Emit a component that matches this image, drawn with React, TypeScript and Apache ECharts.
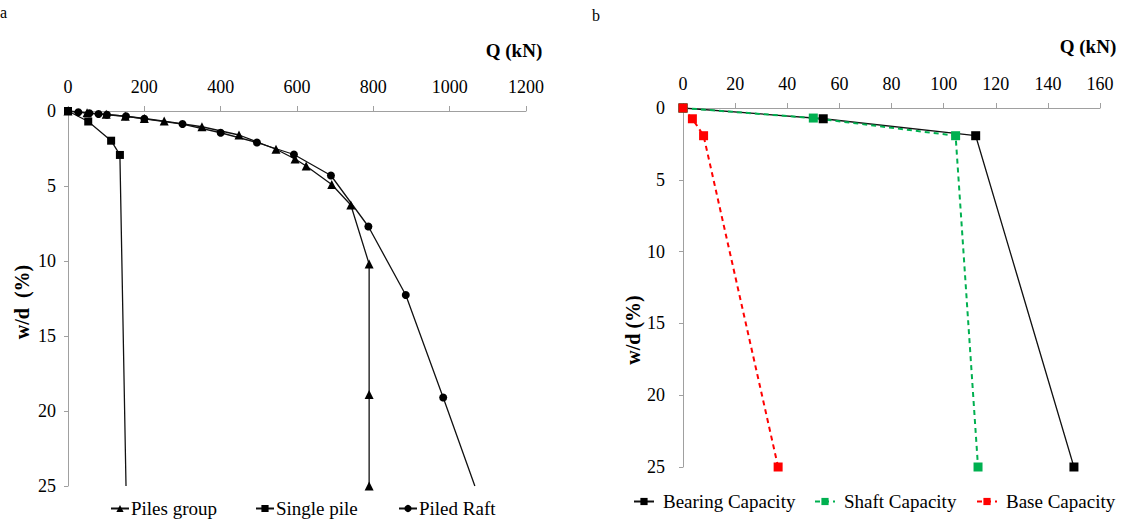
import React, { useEffect, useRef } from "react";
import * as echarts from "echarts";

// ---- Data (chart a) ----
const pilesGroupQ = [0, 50, 100, 150, 200, 252, 351, 448, 545, 595, 624, 691, 741, 789, 789, 789];
const pilesGroupW = [0, 0.12, 0.22, 0.35, 0.5, 0.67, 1.05, 1.6, 2.55, 3.2, 3.67, 4.9, 6.27, 10.2, 18.9, 25];

const singlePileQ = [0, 53, 113, 136, 152];
const singlePileW = [0, 0.7, 1.98, 2.93, 25];
const singlePileMarker = [true, true, true, true, false];

const piledRaftQ = [0, 27, 56, 80, 102, 152, 200, 300, 400, 495, 592, 689, 787, 885, 983, 1066];
const piledRaftW = [0, 0.08, 0.15, 0.2, 0.25, 0.35, 0.52, 0.87, 1.45, 2.1, 2.9, 4.3, 7.7, 12.27, 19.1, 25];
const piledRaftMarker = [true, true, true, true, true, true, true, true, true, true, true, true, true, true, true, false];

// ---- Data (chart b) ----
const bearingQ = [0, 53.8, 112.3, 150];
const bearingW = [0, 0.75, 1.93, 25];
const shaftQ = [0, 50, 104.6, 113.2];
const shaftW = [0, 0.7, 1.93, 25];
const baseQ = [0, 3.6, 7.9, 36.5];
const baseW = [0, 0.75, 1.93, 25];

const xTicksA = { min: 0, max: 1200, interval: 200 };
const xTicksB = { min: 0, max: 160, interval: 20 };
const yTicks = { min: 0, max: 25, interval: 5 };

const SERIF = "Liberation Serif";
const AXIS_GRAY = "#a0a0a0";

function pairs(q: number[], w: number[], marker?: boolean[]) {
  return q.map((v, i) =>
    marker && !marker[i] ? { value: [v, w[i]], symbol: "none" } : [v, w[i]]
  );
}

function xAxisCfg(gridIndex: number, t: { min: number; max: number; interval: number }) {
  return {
    gridIndex,
    type: "value",
    position: "top",
    min: t.min,
    max: t.max,
    interval: t.interval,
    axisLine: { show: true, onZero: false, lineStyle: { color: AXIS_GRAY, width: 1 } },
    axisTick: { show: true, length: 5, lineStyle: { color: AXIS_GRAY } },
    splitLine: { show: false },
    axisLabel: {
      color: "#000",
      fontFamily: SERIF,
      fontSize: 18,
      margin: 15,
      formatter: (v: number) => String(v),
    },
  };
}

function yAxisCfg(gridIndex: number, margin: number) {
  return {
    gridIndex,
    type: "value",
    inverse: true,
    min: yTicks.min,
    max: yTicks.max,
    interval: yTicks.interval,
    axisLine: { show: true, onZero: false, lineStyle: { color: AXIS_GRAY, width: 1 } },
    axisTick: { show: true, length: 4, lineStyle: { color: AXIS_GRAY } },
    splitLine: { show: false },
    axisLabel: {
      color: "#000",
      fontFamily: SERIF,
      fontSize: 18,
      margin,
      formatter: (v: number) => String(v),
    },
  };
}

function legendCfg(name: string, left: number, top: number, iconW: number, pad: number) {
  return {
    data: [name],
    left,
    top,
    orient: "horizontal",
    itemWidth: iconW,
    itemHeight: 9,
    itemGap: 4,
    selectedMode: false,
    padding: 0,
    textStyle: { color: "#000", fontFamily: SERIF, fontSize: 19, padding: [0, 0, 0, pad] },
  };
}

function text(t: string, x: number, y: number, size: number, bold: boolean, rot = 0, align = "center") {
  return {
    type: "text",
    x,
    y,
    rotation: rot,
    style: {
      text: t,
      fill: "#000",
      fontFamily: SERIF,
      fontSize: size,
      fontWeight: bold ? "bold" : "normal",
      textAlign: align,
      textVerticalAlign: "middle",
    },
  };
}

export default function App() {
  const ref = useRef<HTMLDivElement>(null);
  useEffect(() => {
    const chart = echarts.init(ref.current!, null, { renderer: "svg" });
    const option = {
      animation: false,
      backgroundColor: "#fff",
      textStyle: { fontFamily: SERIF },
      grid: [
        { left: 68, top: 111, width: 458, height: 375 },
        { left: 683, top: 108, width: 417, height: 359 },
      ],
      xAxis: [xAxisCfg(0, xTicksA), xAxisCfg(1, xTicksB)],
      yAxis: [yAxisCfg(0, 12), yAxisCfg(1, 18)],
      legend: [
        legendCfg("Piles group", 110, 499, 18, -3),
        legendCfg("Single pile", 255, 499, 18, -3),
        legendCfg("Piled Raft", 398, 499, 18, -3),
        legendCfg("Bearing Capacity", 633, 492, 20, 4),
        legendCfg("Shaft Capacity", 814, 492, 20, 4),
        legendCfg("Base Capacity", 976, 492, 20, 4),
      ],
      graphic: [
        text("a", 0, 12, 16, false, 0, "left"),
        text("b", 592, 15, 16, false, 0, "left"),
        text("Q (kN)", 514, 50, 19, true),
        text("Q (kN)", 1088, 46, 19, true),
        text("w/d  (%)", 22, 302, 20, true, Math.PI / 2),
        text("w/d (%)", 633, 330, 20, true, Math.PI / 2),
      ],
      series: [
        {
          name: "Piles group",
          type: "line",
          xAxisIndex: 0,
          yAxisIndex: 0,
          data: pairs(pilesGroupQ, pilesGroupW),
          symbol: "triangle",
          symbolSize: 9,
          lineStyle: { color: "#111", width: 1.3 },
          itemStyle: { color: "#000" },
        },
        {
          name: "Single pile",
          type: "line",
          xAxisIndex: 0,
          yAxisIndex: 0,
          data: pairs(singlePileQ, singlePileW, singlePileMarker),
          symbol: "rect",
          symbolSize: 8,
          lineStyle: { color: "#111", width: 1.3 },
          itemStyle: { color: "#000" },
        },
        {
          name: "Piled Raft",
          type: "line",
          xAxisIndex: 0,
          yAxisIndex: 0,
          data: pairs(piledRaftQ, piledRaftW, piledRaftMarker),
          symbol: "circle",
          symbolSize: 8,
          lineStyle: { color: "#111", width: 1.3 },
          itemStyle: { color: "#000" },
        },
        {
          name: "Bearing Capacity",
          type: "line",
          xAxisIndex: 1,
          yAxisIndex: 1,
          data: pairs(bearingQ, bearingW),
          symbol: "rect",
          symbolSize: 9,
          lineStyle: { color: "#111", width: 1.3 },
          itemStyle: { color: "#000" },
        },
        {
          name: "Shaft Capacity",
          type: "line",
          xAxisIndex: 1,
          yAxisIndex: 1,
          data: pairs(shaftQ, shaftW),
          symbol: "rect",
          symbolSize: 9,
          lineStyle: { color: "#00b050", width: 2, type: [5, 4] },
          itemStyle: { color: "#00b050" },
        },
        {
          name: "Base Capacity",
          type: "line",
          xAxisIndex: 1,
          yAxisIndex: 1,
          data: pairs(baseQ, baseW),
          symbol: "rect",
          symbolSize: 9,
          lineStyle: { color: "#ff0000", width: 2, type: [5, 4] },
          itemStyle: { color: "#ff0000" },
        },
      ],
    };
    chart.setOption(option as any);
    return () => chart.dispose();
  }, []);
  return (
    <div
      ref={ref}
      style={{ position: "absolute", left: 0, top: 0, width: 1122, height: 520, background: "#fff" }}
    />
  );
}
